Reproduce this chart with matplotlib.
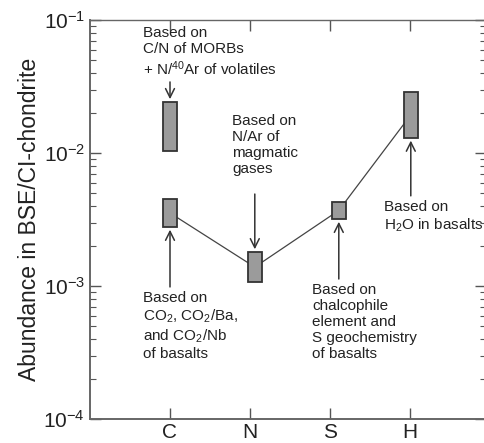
import matplotlib
matplotlib.use("Agg")
import matplotlib.pyplot as plt
import numpy as np

plt.rcParams['font.family'] = ['Liberation Sans', 'DejaVu Sans']
plt.rcParams['mathtext.fontset'] = 'custom'
plt.rcParams['mathtext.rm'] = 'Liberation Sans'
plt.rcParams['mathtext.it'] = 'Liberation Sans:italic'
plt.rcParams['mathtext.bf'] = 'Liberation Sans:bold'

# ---- data ----
elements = ['C', 'N', 'S', 'H']
box_low = [0.00278, 0.00107, 0.00319, 0.0130]   # lower bound of each range
box_high = [0.00451, 0.00180, 0.00429, 0.0288]  # upper bound of each range
c_alt_low = 0.0104    # alternative C estimate (MORB C/N + N/40Ar)
c_alt_high = 0.0242

# small horizontal placement offsets of boxes relative to tick (layout)
x_shift = [0.0, 0.06, 0.11, 0.01]

fig = plt.figure(figsize=(4.85, 4.43), dpi=100)
ax = fig.add_axes([90/485, 1 - 419/443, 396/485, 399/443])

xpos = np.arange(1, len(elements) + 1)
bx = xpos + np.array(x_shift)
bw = 0.18
face = '#9b9b9b'
edge = '#333333'

# connecting line through geometric centres
centres = np.sqrt(np.array(box_low) * np.array(box_high))
ax.plot(bx, centres, color='#444444', lw=0.9, zorder=1)

ax.bar(bx, np.array(box_high) - np.array(box_low), bottom=box_low, width=bw,
       color=face, edgecolor=edge, linewidth=1.3, zorder=2)
ax.bar([bx[0]], [c_alt_high - c_alt_low], bottom=[c_alt_low], width=bw,
       color=face, edgecolor=edge, linewidth=1.3, zorder=2)

ax.set_yscale('log')
ax.set_ylim(1e-4, 1e-1)
ax.set_xlim(0, 4.95)
ax.set_xticks(xpos)
ax.set_xticklabels(elements)
ax.set_ylabel('Abundance in BSE/CI-chondrite', fontsize=16.5, color='#222222', labelpad=2)

ax.tick_params(which='both', direction='in', top=True, right=True,
               labelsize=15, colors='#555555', labelcolor='#222222')
ax.tick_params(which='major', length=8, width=1.0)
ax.tick_params(which='minor', length=4, width=0.8)
ax.tick_params(axis='x', pad=3)
for s in ax.spines.values():
    s.set_color('#666666')
    s.set_linewidth(1.4)
ax.spines['top'].set_linewidth(1.0)

tfs = 11
tcol = '#222222'
acol = '#333333'

def arrow(x, ytip, length_px, up):
    off = length_px * 0.72 * (-1 if up else 1)
    ax.annotate('', xy=(x, ytip), xytext=(0, off), textcoords='offset points',
                arrowprops=dict(arrowstyle='->', color=acol, lw=1.1,
                                mutation_scale=16, shrinkA=0, shrinkB=2))

# annotations (arrows point to the boxes)
arrow(bx[0], c_alt_high, 20, up=False)
arrow(bx[1], box_high[1], 58, up=False)
arrow(bx[3], box_low[3], 58, up=True)
arrow(bx[0], box_low[0], 60, up=True)
arrow(bx[2], box_low[2], 60, up=True)

tr = ax.transAxes
ax.text(0.134, 0.985, 'Based on\nC/N of MORBs\n+ N/$^{40}$Ar of volatiles',
        transform=tr, fontsize=tfs, color=tcol, va='top', ha='left', linespacing=1.2)
ax.text(0.359, 0.765, 'Based on\nN/Ar of\nmagmatic\ngases',
        transform=tr, fontsize=tfs, color=tcol, va='top', ha='left', linespacing=1.2)
ax.text(0.742, 0.550, 'Based on\nH$_2$O in basalts',
        transform=tr, fontsize=tfs, color=tcol, va='top', ha='left', linespacing=1.2)
ax.text(0.134, 0.322, 'Based on\nCO$_2$, CO$_2$/Ba,\nand CO$_2$/Nb\nof basalts',
        transform=tr, fontsize=tfs, color=tcol, va='top', ha='left', linespacing=1.2)
ax.text(0.561, 0.342, 'Based on\nchalcophile\nelement and\nS geochemistry\nof basalts',
        transform=tr, fontsize=tfs, color=tcol, va='top', ha='left', linespacing=1.2)

fig.savefig('out.png', dpi=100)
